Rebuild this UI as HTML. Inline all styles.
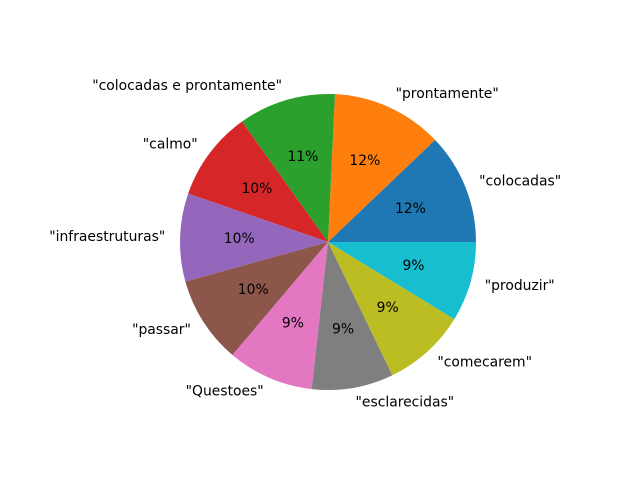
<!DOCTYPE html>
<html><head><meta charset="utf-8"><style>
body{margin:0;background:#fff}
svg text{font-family:"DejaVu Sans",sans-serif;font-size:13.9px;fill:#000}
</style></head><body>
<svg id="chart" width="640" height="480"></svg>
<script>
const categories=['"colocadas"','"prontamente"','"colocadas e prontamente"','"calmo"','"infraestruturas"','"passar"','"Questoes"','"esclarecidas"','"comecarem"','"produzir"'];
const values=[12.1,12.1,10.6,9.8,9.6,9.5,9.4,8.9,9.1,8.7];
const colors=['#1f77b4','#ff7f0e','#2ca02c','#d62728','#9467bd','#8c564b','#e377c2','#7f7f7f','#bcbd22','#17becf'];
const svg=document.getElementById('chart');
const NS='http://www.w3.org/2000/svg';
const cx=328,cy=242,r=148;
const total=values.reduce((a,b)=>a+b,0);
let a0=0;
values.forEach((v,i)=>{
  const a1=a0+v/total*2*Math.PI;
  const x0=cx+r*Math.cos(a0),y0=cy-r*Math.sin(a0),x1=cx+r*Math.cos(a1),y1=cy-r*Math.sin(a1);
  const p=document.createElementNS(NS,'path');
  p.setAttribute('d',`M${cx},${cy}L${x0},${y0}A${r},${r} 0 ${a1-a0>Math.PI?1:0} 0 ${x1},${y1}Z`);
  p.setAttribute('fill',colors[i]);
  
  
  svg.appendChild(p);
  const am=(a0+a1)/2,c=Math.cos(am),s=Math.sin(am);
  const t=document.createElementNS(NS,'text');
  t.setAttribute('x',cx+1.1*r*c);t.setAttribute('y',cy-1.1*r*s);
  t.setAttribute('text-anchor',c>=0?'start':'end');
  t.setAttribute('dominant-baseline','central');
  t.textContent=categories[i];
  
  
  svg.appendChild(t);
  const q=document.createElementNS(NS,'text');
  q.setAttribute('x',cx+0.6*r*c);q.setAttribute('y',cy-0.6*r*s);
  q.setAttribute('text-anchor','middle');
  q.setAttribute('dominant-baseline','central');
  q.textContent=Math.round(v/total*100)+'%';
  
  
  svg.appendChild(q);
  a0=a1;
});
</script>
</body></html>
